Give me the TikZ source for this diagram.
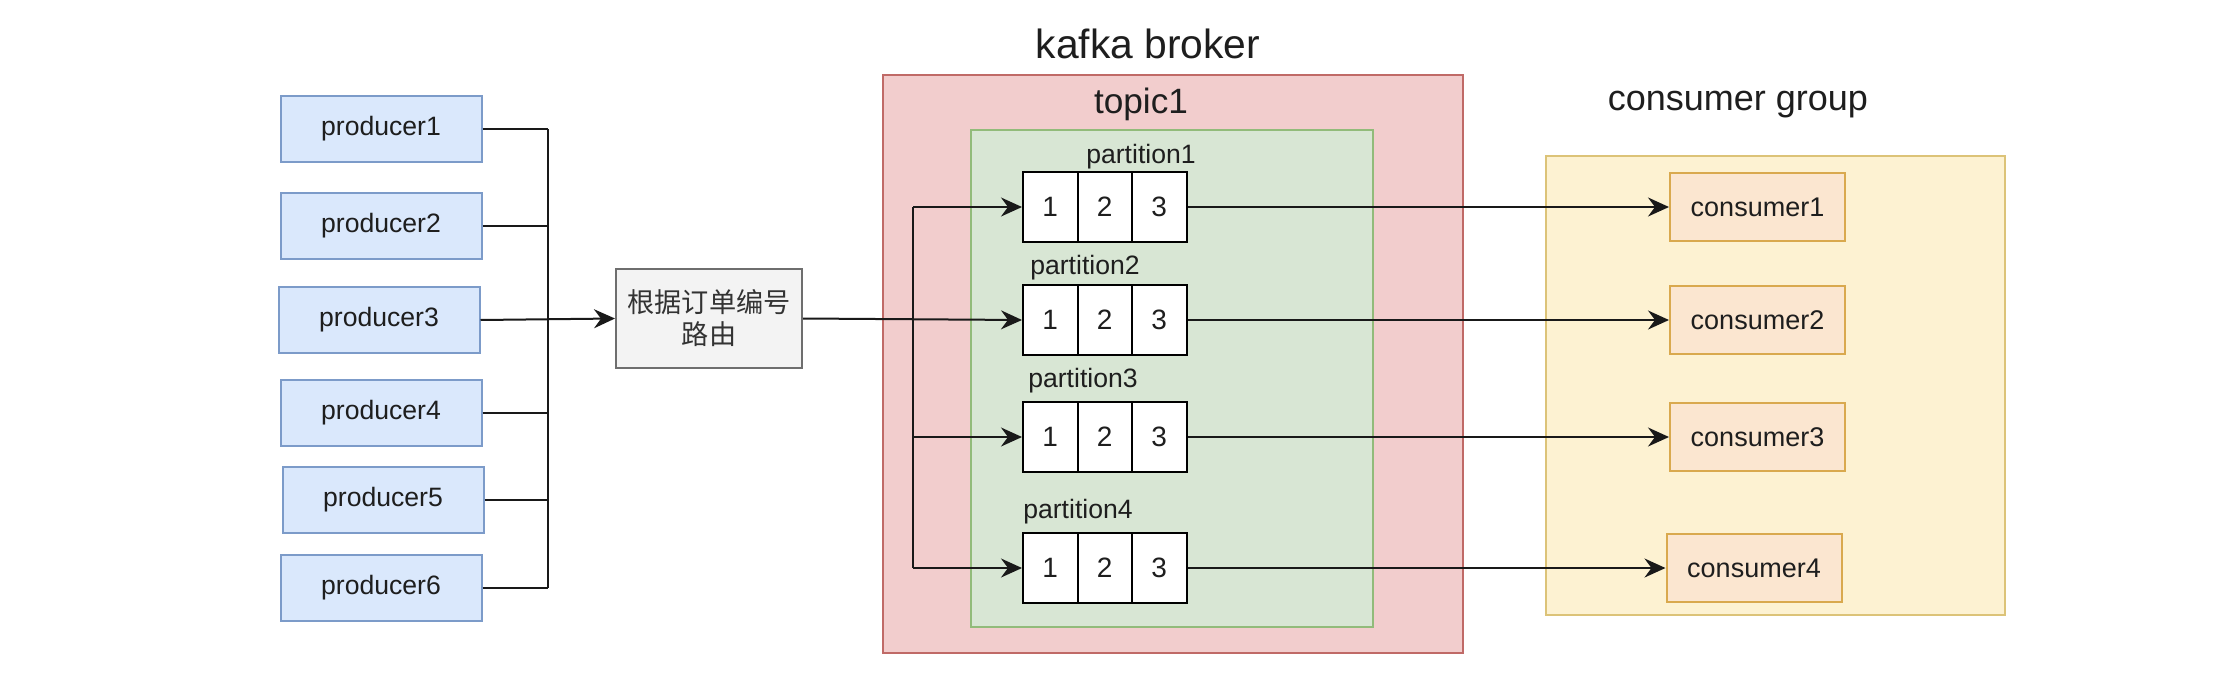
\documentclass[tikz,border=0pt]{standalone}
\usepackage{fontspec}
\setmainfont{Liberation Sans}
\newfontfamily\cjk{Noto Sans CJK SC}
\usetikzlibrary{arrows.meta}
\definecolor{prodfill}{HTML}{DAE8FC}
\definecolor{prodline}{HTML}{7C9BC9}
\definecolor{routefill}{HTML}{F3F3F3}
\definecolor{routeline}{HTML}{6E6E6E}
\definecolor{redfill}{HTML}{F2CDCD}
\definecolor{redline}{HTML}{C06A67}
\definecolor{greenfill}{HTML}{D8E6D4}
\definecolor{greenline}{HTML}{92BB7A}
\definecolor{yelfill}{HTML}{FDF2D2}
\definecolor{yelline}{HTML}{DCC378}
\definecolor{consfill}{HTML}{FBE6D0}
\definecolor{consline}{HTML}{D9A94E}
\definecolor{txt}{HTML}{1E1E1E}
\begin{document}
\begin{tikzpicture}[x=0.5pt,y=-0.5pt,
  every node/.style={text=txt},
  prodbox/.style={draw=prodline,fill=prodfill,line width=1pt,minimum width=100.5pt,minimum height=33pt,inner sep=0pt,font=\fontsize{13.3pt}{16pt}\selectfont},
  routebox/.style={draw=routeline,fill=routefill,line width=1pt,minimum width=93pt,minimum height=49.5pt,inner sep=0pt,align=center,font=\cjk\fontsize{13.6pt}{16pt}\selectfont,text=black!80},
  cell/.style={draw=black,fill=white,line width=1pt,minimum width=27.25pt,minimum height=35pt,inner sep=0pt,font=\fontsize{14pt}{16pt}\selectfont},
  conbox/.style={draw=consline,fill=consfill,line width=1pt,minimum width=87.5pt,minimum height=34pt,inner sep=0pt,font=\fontsize{13.5pt}{16pt}\selectfont},
  plabel/.style={inner sep=0pt,font=\fontsize{13.3pt}{16pt}\selectfont},
  title/.style={inner sep=0pt},
  wire/.style={line width=1pt,draw=black!90},
  arr/.style={wire,-{Stealth[length=10.5pt,width=9.5pt,inset=3.5pt]}}
]
\useasboundingbox[fill=white] (0,0) rectangle (2224,686);

% containers
\draw[fill=redfill,draw=redline,line width=1pt] (883,75) rectangle (1463,653);
\draw[fill=greenfill,draw=greenline,line width=1pt] (971,130) rectangle (1373,627);
\draw[fill=yelfill,draw=yelline,line width=1pt] (1546,156) rectangle (2005,615);

% titles
\node[title,font=\fontsize{20.4pt}{24pt}\selectfont] (tkafka) at (1148,44) {kafka broker};
\node[title,font=\fontsize{17.6pt}{21pt}\selectfont] (ttopic) at (1141,104) {topic1};
\node[title,font=\fontsize{18pt}{21pt}\selectfont] (tgroup) at (1738,105) {consumer group};

% producers
\node[prodbox] (p1) at (381,129) {producer1};
\node[prodbox] (p2) at (381,226) {producer2};
\node[prodbox] (p3) at (379,320) {producer3};
\node[prodbox] (p4) at (381,413) {producer4};
\node[prodbox] (p5) at (383,500) {producer5};
\node[prodbox] (p6) at (381,588) {producer6};

% routing
\node[routebox] (route) at (709,318.5) {根据订单编号\\路由};

% partitions
\foreach \i/\y in {1/207,2/320,3/437,4/568}{
  \node[cell] (q\i a) at (1050.25,\y) {1};
  \node[cell] (q\i b) at (1104.75,\y) {2};
  \node[cell] (q\i c) at (1159.25,\y) {3};
}
\node[plabel] (l1) at (1141,157) {partition1};
\node[plabel] (l2) at (1085,268) {partition2};
\node[plabel] (l3) at (1083,381) {partition3};
\node[plabel] (l4) at (1078,512) {partition4};

% consumers
\node[conbox] (c1) at (1757.5,207) {consumer1};
\node[conbox] (c2) at (1757.5,320) {consumer2};
\node[conbox] (c3) at (1757.5,437) {consumer3};
\node[conbox] (c4) at (1754,568) {consumer4};

% producer bus
\coordinate (bus) at (548,320);
\foreach \i in {1,2,4,5,6}{
  \draw[wire] (p\i.east) -- (p\i.east -| bus);
}
\draw[wire] (p1.east -| bus) -- (p6.east -| bus);
\draw[arr] (p3.east) -- (route.west);

% distribution
\coordinate (dist) at (913,320);
\draw[arr] (route.east) -- (q2a.west);
\draw[wire] (dist |- q1a.west) -- (dist |- q4a.west);
\draw[arr] (dist |- q1a.west) -- (q1a.west);
\draw[arr] (dist |- q3a.west) -- (q3a.west);
\draw[arr] (dist |- q4a.west) -- (q4a.west);

% to consumers
\foreach \i in {1,2,3,4}{
  \draw[arr] (q\i c.east) -- (c\i.west);
}
\end{tikzpicture}
\end{document}
